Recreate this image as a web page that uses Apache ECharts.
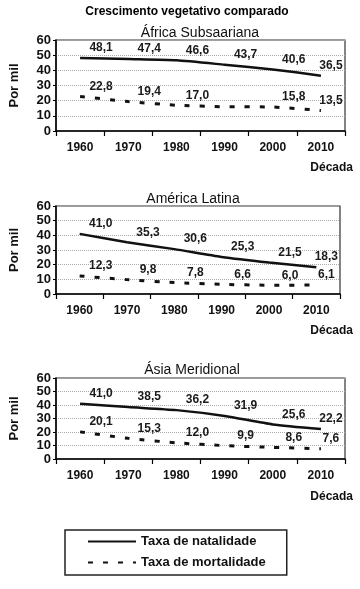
<!DOCTYPE html>
<html>
<head>
<meta charset="utf-8">
<script src="https://cdn.jsdelivr.net/npm/echarts@6/dist/echarts.min.js"></script>
<style>
html,body{margin:0;padding:0;background:#fff;}
#c{width:360px;height:589px;}
</style>
</head>
<body>
<div id="c"></div>
<script>
const decades = ['1960', '1970', '1980', '1990', '2000', '2010'];
const yTicks = [0, 10, 20, 30, 40, 50, 60];
const regionNames = ['África Subsaariana', 'América Latina', 'Ásia Meridional'];
const africaBirth = [48.1, 47.4, 46.6, 43.7, 40.6, 36.5];
const africaDeath = [22.8, 19.4, 17.0, 16.0, 15.8, 13.5];
const latinBirth = [41.0, 35.3, 30.6, 25.3, 21.5, 18.3];
const latinDeath = [12.3, 9.8, 7.8, 6.6, 6.0, 6.1];
const asiaBirth = [41.0, 38.5, 36.2, 31.9, 25.6, 22.2];
const asiaDeath = [20.1, 15.3, 12.0, 9.9, 8.6, 7.6];
const africaDeathUnlabelled = [3];
const seriesNames = ['Taxa de natalidade', 'Taxa de mortalidade'];

const FONT = '"Liberation Sans", Arial, sans-serif';
const grids = [
  {left: 50, top: 40, width: 295, height: 91},
  {left: 50, top: 206, width: 290, height: 88},
  {left: 50, top: 378, width: 295, height: 81}
].map(g => Object.assign(g, {show: true, borderColor: '#333', borderWidth: 1.2, backgroundColor: 'transparent'}));
const titleTops = [21, 187, 358];
const decadaTops = [157, 320, 486];
const titleCenters = [195, 188, 187];

const fmt = v => Number(v).toFixed(1).replace('.', ',');

function mkData(arr, hidden) {
  return arr.map((v, i) => {
    const item = {value: v, label: {offset: [i === arr.length - 1 ? 10 : 21, 0]}};
    if (hidden && hidden.indexOf(i) >= 0) item.label.show = false;
    return item;
  });
}

const panels = [
  [africaBirth, africaDeath, africaDeathUnlabelled],
  [latinBirth, latinDeath, null],
  [asiaBirth, asiaDeath, null]
];

const xAxis = [], yAxis = [], series = [];
const title = [{
  text: 'Crescimento vegetativo comparado', left: 182, top: 1, textAlign: 'center',
  textStyle: {fontFamily: FONT, fontSize: 12, fontWeight: 'bold', color: '#000'}
}];

panels.forEach((p, k) => {
  xAxis.push({
    gridIndex: k, type: 'category', data: decades, boundaryGap: true,
    axisLine: {lineStyle: {color: '#000', width: 1.5}},
    axisTick: {show: true, length: 5, lineStyle: {color: '#000', width: 1.2}},
    axisLabel: {fontFamily: FONT, fontSize: 12, fontWeight: 'bold', color: '#111', margin: 11},
    splitLine: {show: false}
  });
  yAxis.push({
    gridIndex: k, type: 'value', min: 0, max: 60, interval: 10,
    name: 'Por mil', nameLocation: 'middle', nameGap: 35, nameRotate: 90,
    nameTextStyle: {fontFamily: FONT, fontSize: 13, fontWeight: 'bold', color: '#111'},
    axisLine: {show: true, lineStyle: {color: '#000', width: 1.5}},
    axisTick: {show: true, length: 3, lineStyle: {color: '#000'}},
    axisLabel: {fontFamily: FONT, fontSize: 13, fontWeight: 'bold', color: '#111', margin: 5},
    splitLine: {show: true, lineStyle: {color: '#aaa', type: 'dotted', width: 1}}
  });
  const lbl = {
    show: true, position: 'top', distance: 4,
    fontFamily: FONT, fontSize: 12, fontWeight: 'bold', color: '#1a1a1a',
    formatter: q => fmt(q.value)
  };
  series.push({
    name: seriesNames[0], type: 'line', xAxisIndex: k, yAxisIndex: k,
    data: mkData(p[0]), symbol: 'circle', symbolSize: 0, showSymbol: true, smooth: 0.2,
    lineStyle: {color: '#111', width: 2.5, type: 'solid'},
    itemStyle: {color: '#111'},
    label: lbl
  });
  series.push({
    name: seriesNames[1], type: 'line', xAxisIndex: k, yAxisIndex: k,
    data: mkData(p[1], p[2]), symbol: 'circle', symbolSize: 0, showSymbol: true, smooth: 0.2,
    lineStyle: {color: '#111', width: 3, type: [5, 10]},
    itemStyle: {color: '#111'},
    label: lbl
  });
  title.push({
    text: regionNames[k], left: titleCenters[k], top: titleTops[k], textAlign: 'center',
    textStyle: {fontFamily: FONT, fontSize: 14, fontWeight: 'normal', color: '#111'}
  });
  title.push({
    text: 'Década', right: 2, top: decadaTops[k],
    textStyle: {fontFamily: FONT, fontSize: 12, fontWeight: 'bold', color: '#111'}
  });
});

const chart = echarts.init(document.getElementById('c'), null, {renderer: 'canvas'});
chart.setOption({
  animation: false,
  backgroundColor: '#fff',
  title: title,
  grid: grids,
  xAxis: xAxis,
  yAxis: yAxis,
  series: series,
  legend: {
    data: seriesNames, orient: 'vertical', left: 65, top: 530,
    padding: [5, 21, 6, 22], itemGap: 8, itemWidth: 48, itemHeight: 14,
    borderColor: '#222', borderWidth: 1.5, borderRadius: 0,
    itemStyle: {opacity: 0},
    textStyle: {fontFamily: FONT, fontSize: 13, fontWeight: 'bold', color: '#111'},
    selectedMode: false
  }
});
</script>
</body>
</html>
